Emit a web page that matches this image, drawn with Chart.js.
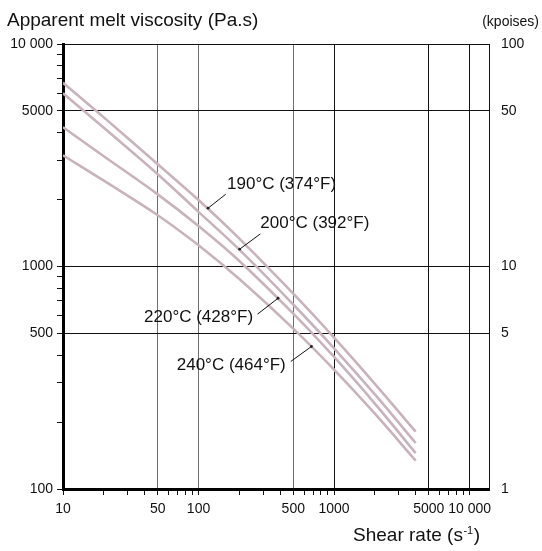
<!DOCTYPE html>
<html>
<head>
<meta charset="utf-8">
<script src="https://cdn.jsdelivr.net/npm/chart.js@4/dist/chart.umd.min.js"></script>
<style>
  html, body { margin: 0; padding: 0; background: #ffffff; }
  #wrap { position: relative; width: 542px; height: 551px; }
</style>
</head>
<body>
<div id="wrap"><canvas id="c"></canvas></div>
<script>
// ---------- data ----------
const shearRates = [10, 20, 50, 100, 200, 500, 1000, 2000, 4000];          // s-1
const visc190 = [6700, 4680, 2880, 1990, 1335, 755, 479, 297, 181];          // Pa.s
const visc200 = [6005, 4200, 2600, 1760, 1190, 675, 429, 266, 161];
const visc220 = [4226, 3130, 2110, 1520, 1059, 614, 392, 242, 145];
const visc240 = [3161, 2430, 1700, 1245, 878, 526, 344, 218, 134];
const seriesNames = ['190°C (374°F)', '200°C (392°F)', '220°C (428°F)', '240°C (464°F)'];
const labelAnchorRate = [117.5, 201, 386, 681];
const labelAnchorVisc = [1828, 1196, 720, 437];

const xLabelTicks = [10, 50, 100, 500, 1000, 5000, 10000];
const xMinorTicks = [20, 30, 40, 60, 70, 80, 90, 200, 300, 400, 600, 700, 800, 900,
                     2000, 3000, 4000, 6000, 7000, 8000, 9000];
const yLabelTicks = [100, 500, 1000, 5000, 10000];
const yMinorTicks = [200, 300, 400, 600, 700, 800, 900, 2000, 3000, 4000, 6000, 7000, 8000, 9000];
const yRightLabels = ['1', '5', '10', '50', '100'];   // kpoises
const xRange = [10, 13900];
const yRange = [100, 10000];

const yTitle = 'Apparent melt viscosity (Pa.s)';
const yRightTitle = '(kpoises)';
const xTitle = 'Shear rate (s';
const xTitleSup = '-1';
const xTitleEnd = ')';

// ---------- helpers ----------
const FONT = '"Liberation Sans", Arial, Helvetica, sans-serif';
const fmt = v => v >= 10000 ? String(v).replace(/(\d)(?=(\d{3})+$)/g, '$1 ') : String(v);
const pts = arr => shearRates.map((r, i) => ({ x: r, y: arr[i] }));
const curveColor = '#c8b3bd';
const allX = xLabelTicks.concat(xMinorTicks).sort((a, b) => a - b);
const allY = yLabelTicks.concat(yMinorTicks).sort((a, b) => a - b);

const textPlugin = {
  id: 'texts',
  afterDatasetsDraw(chart) {
    const ctx = chart.ctx;
    const xs = chart.scales.x, ys = chart.scales.y;
    ctx.save();
    ctx.fillStyle = '#111';
    ctx.textBaseline = 'alphabetic';
    // titles
    ctx.font = '19px ' + FONT;
    ctx.textAlign = 'left';
    ctx.fillText(yTitle, 7, 26);
    ctx.font = '14px ' + FONT;
    ctx.textAlign = 'right';
    ctx.fillText(yRightTitle, 539, 26);
    // x title with superscript
    ctx.textAlign = 'left';
    ctx.font = '19px ' + FONT;
    const w1 = ctx.measureText(xTitle).width;
    const w3 = ctx.measureText(xTitleEnd).width;
    ctx.font = '11px ' + FONT;
    const w2 = ctx.measureText(xTitleSup).width;
    const right = 480, base = 541;
    let x0 = right - (w1 + w2 + w3 + 1);
    ctx.font = '19px ' + FONT;
    ctx.fillText(xTitle, x0, base);
    ctx.font = '11px ' + FONT;
    ctx.fillText(xTitleSup, x0 + w1 + 0.5, base - 7);
    ctx.font = '19px ' + FONT;
    ctx.fillText(xTitleEnd, x0 + w1 + w2 + 1, base);

    // curve labels with leader lines
    const lay = [
      { tx: 19, ty: -19, lx: 17.7, ly: -14, align: 'left' },
      { tx: 20.7, ty: -21, lx: 20.7, ly: -15.3, align: 'left' },
      { tx: -25, ty: 23.4, lx: -20.6, ly: 16, align: 'right' },
      { tx: -25.7, ty: 24, lx: -20.7, ly: 15, align: 'right' }
    ];
    ctx.font = '17px ' + FONT;
    seriesNames.forEach((name, i) => {
      const px = xs.getPixelForValue(labelAnchorRate[i]);
      const py = ys.getPixelForValue(labelAnchorVisc[i]);
      const L = lay[i];
      ctx.strokeStyle = '#111';
      ctx.lineWidth = 1;
      ctx.beginPath();
      ctx.moveTo(px, py);
      ctx.lineTo(px + L.lx, py + L.ly);
      ctx.stroke();
      ctx.beginPath();
      ctx.arc(px, py, 1.4, 0, Math.PI * 2);
      ctx.fillStyle = '#222';
      ctx.fill();
      ctx.fillStyle = '#111';
      ctx.textAlign = L.align;
      ctx.fillText(name, px + L.tx, py + L.ty);
    });
    ctx.restore();
  }
};

const ds = (arr) => ({
  data: pts(arr),
  borderColor: curveColor,
  borderWidth: 2.6,
  pointRadius: 0,
  fill: false,
  tension: 0.4,
  borderCapStyle: 'butt'
});

new Chart(document.getElementById('c'), {
  type: 'line',
  data: {
    datasets: [ds(visc190), ds(visc200), ds(visc220), ds(visc240)]
  },
  options: {
    responsive: true,
    maintainAspectRatio: false,
    animation: false,
    events: [],
    layout: { padding: { top: 44, left: 0, right: 0, bottom: 0 }, autoPadding: false },
    plugins: { legend: { display: false }, tooltip: { enabled: false }, title: { display: false } },
    scales: {
      x: {
        type: 'logarithmic',
        position: 'bottom',
        min: xRange[0], max: xRange[1],
        afterBuildTicks: s => { s.ticks = allX.map(v => ({ value: v })); },
        afterFit: s => { s.height = 62; },
        ticks: {
          autoSkip: false, maxRotation: 0, minRotation: 0, padding: 6,
          color: '#111', font: { family: FONT, size: 14 },
          callback: v => xLabelTicks.includes(v) ? fmt(v) : ''
        },
        grid: {
          color: c => {
            const v = c.tick && c.tick.value;
            if (v === 50 || v === 100 || v === 500) return '#6e6e6e';
            if (v === 1000 || v === 5000 || v === 10000) return '#111';
            return 'rgba(0,0,0,0)';
          },
          lineWidth: 1, tickColor: '#111', tickLength: 6, tickWidth: 1, drawTicks: true
        },
        border: { display: true, color: '#000', width: 3 }
      },
      y: {
        type: 'logarithmic',
        position: 'left',
        min: yRange[0], max: yRange[1],
        afterBuildTicks: s => { s.ticks = allY.map(v => ({ value: v })); },
        afterFit: s => { s.width = 63; },
        ticks: {
          autoSkip: false, padding: 4,
          color: '#111', font: { family: FONT, size: 14 },
          callback: v => yLabelTicks.includes(v) ? fmt(v) : ''
        },
        grid: {
          color: c => {
            const v = c.tick && c.tick.value;
            if (v === 500 || v === 1000 || v === 5000 || v === 10000) return '#111';
            return 'rgba(0,0,0,0)';
          },
          lineWidth: 1, tickColor: '#111', tickLength: 6, tickWidth: 1, drawTicks: true
        },
        border: { display: true, color: '#000', width: 3 }
      },
      y2: {
        type: 'logarithmic',
        position: 'right',
        min: yRange[0], max: yRange[1],
        afterBuildTicks: s => { s.ticks = yLabelTicks.map(v => ({ value: v })); },
        afterFit: s => { s.width = 53; },
        ticks: {
          autoSkip: false, padding: 12,
          color: '#111', font: { family: FONT, size: 14 },
          callback: (v) => yRightLabels[yLabelTicks.indexOf(v)] || ''
        },
        grid: { drawOnChartArea: false, drawTicks: false },
        border: { display: true, color: '#111', width: 1 }
      }
    }
  },
  plugins: [textPlugin]
});
</script>
</body>
</html>
